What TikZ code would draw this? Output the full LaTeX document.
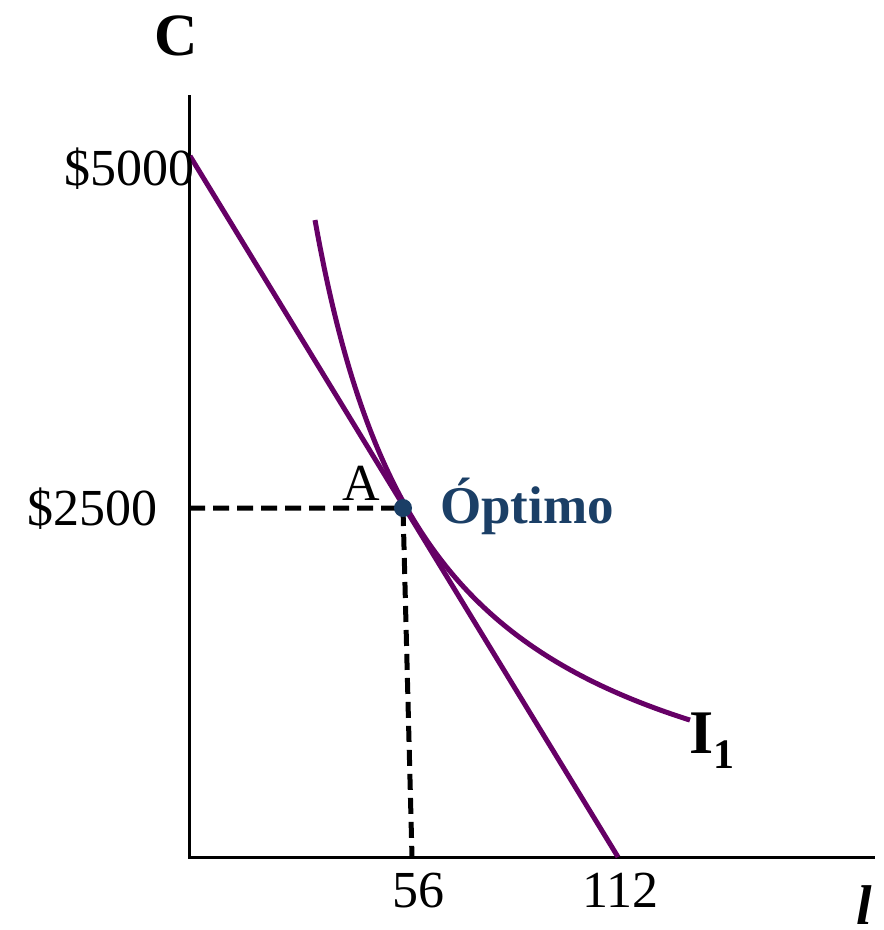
\documentclass[tikz,border=0pt]{standalone}
\usepackage{fontspec}
\setmainfont{Liberation Serif}
\definecolor{curvepurple}{HTML}{660066}
\definecolor{optblue}{HTML}{1B3F66}
\begin{document}
\begin{tikzpicture}[x=1pt,y=-1pt,
  axis/.style={line width=3pt,black},
  purpleline/.style={line width=5pt,curvepurple},
  guide/.style={line width=5pt,black,dash pattern=on 16pt off 8pt},
  lbl/.style={inner sep=0pt,font=\fontsize{52}{60}\selectfont},
  blbl/.style={inner sep=0pt,font=\fontsize{60}{70}\selectfont\bfseries}]
\useasboundingbox (0,0) rectangle (884,930);
% axes
\coordinate (O) at (189,857);
\coordinate (ytop) at (189,95);
\coordinate (xend) at (875,857);
\draw[axis] (ytop) -- (O) -- (xend);
% budget line
\coordinate (B1) at (190,156);
\coordinate (B2) at (618,857);
\draw[purpleline] (B1) -- (B2);
% indifference curve
\draw[purpleline] plot[domain=315:690,samples=120,smooth] (\x,{876.5-1000*(77.003/(\x-197.7))});
% optimum
\coordinate (A) at (403,508);
\coordinate (Ay) at (189,508);
\coordinate (Ax) at (412,857);
\draw[guide] (Ay) -- (A) -- (Ax);
\fill[optblue] (A) circle (9);
% labels
\node[blbl,anchor=base] (lC) at (176,55) {C};
\node[lbl,anchor=base east] (l5000) at (195,185) {\$5000};
\node[lbl,anchor=base east] (l2500) at (158,525) {\$2500};
\node[lbl,anchor=base west] (lA) at (342,500) {A};
\node[lbl,anchor=base west,text=optblue,font=\fontsize{53}{60}\selectfont\bfseries] (lopt) at (440,523) {Óptimo};
\node[lbl,anchor=base west] (l56) at (392,907) {56};
\node[lbl,anchor=base west] (l112) at (582,907) {112};
\node[blbl,anchor=base west,font=\fontsize{62}{70}\selectfont\bfseries] (lI) at (689,753) {I};
\node[blbl,anchor=base west,font=\fontsize{42}{50}\selectfont\bfseries] (lI1) at (713,768) {1};
\node[blbl,anchor=base west,text depth=0pt,font=\fontsize{56}{64}\selectfont\bfseries\itshape] (ll) at (856,924) {l};
\end{tikzpicture}
\end{document}
